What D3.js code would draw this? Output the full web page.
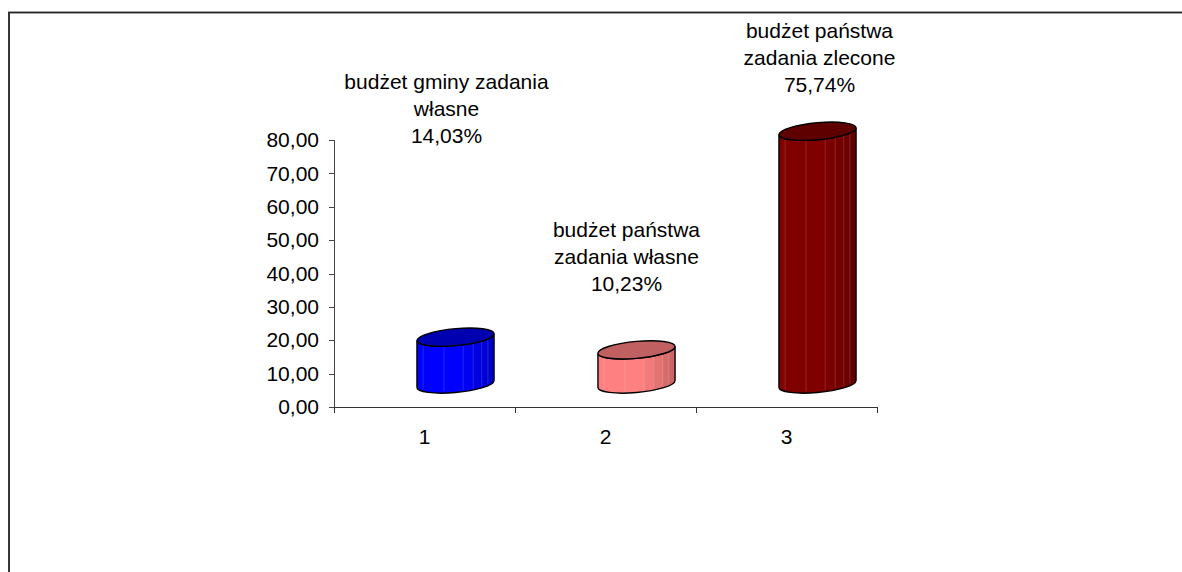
<!DOCTYPE html>
<html lang="pl">
<head>
<meta charset="utf-8">
<title>Budżet</title>
<script src="https://d3js.org/d3.v7.min.js"></script>
<style>
  body { margin: 0; background: #fff; overflow: hidden; }
  svg { display: block; }
  text { font-family: "Liberation Sans", Arial, sans-serif; fill: #000; }
</style>
</head>
<body>
<svg class="chart"></svg>
<script>
// data
var categories = ["1", "2", "3"];
var values = [14.03, 10.23, 75.74];
var labelLines = [
  ["budżet gminy zadania", "własne"],
  ["budżet państwa", "zadania własne"],
  ["budżet państwa", "zadania zlecone"]
];
var yTicks = [0, 10, 20, 30, 40, 50, 60, 70, 80];

// colours: side, right (shaded) side, top
var sideColors = ["#0000ff", "#ff8080", "#800000"];
var darkColors = ["#0000c8", "#c86464", "#640000"];
var topColors = ["#0000b0", "#c06060", "#5e0000"];

var W = 1182, H = 572;
var fontSize = 21;

var pl = d3.formatLocale({decimal: ",", thousands: " ", grouping: [3], currency: ["", " zł"]});
var fmt = pl.format(".2f");

var svg = d3.select(".chart").attr("width", W).attr("height", H);
var defs = svg.append("defs");

// outer frame (runs off the right and bottom edges)
svg.append("rect")
  .attr("x", 9).attr("y", 12.5)
  .attr("width", W + 20).attr("height", H + 20)
  .attr("fill", "none").attr("stroke", "#222").attr("stroke-width", 1.8);

var x = d3.scaleBand().domain(categories).range([334, 877]);
var y = d3.scaleLinear().domain([0, 80]).range([407, 140]);

// y axis
var yAxis = d3.axisLeft(y).tickValues(yTicks).tickSize(5).tickPadding(10).tickFormat(fmt);
svg.append("g").attr("transform", "translate(334,0)").call(yAxis)
  .call(function(g) {
    g.selectAll("path, line").attr("stroke", "#444").attr("shape-rendering", "crispEdges");
    g.select(".domain").attr("d", "M0," + y(80) + "V" + y(0));
    g.selectAll("text").attr("font-size", fontSize).attr("font-family", null).attr("fill", "#000");
  });

// x axis: labels at band centres, tick marks at band edges
var xAxis = d3.axisBottom(x).tickSize(0).tickPadding(22);
svg.append("g").attr("transform", "translate(0," + y(0) + ")").call(xAxis)
  .call(function(g) {
    g.select(".domain").attr("d", "M" + x.range()[0] + ",0H" + x.range()[1])
      .attr("stroke", "#333").attr("shape-rendering", "crispEdges");
    g.selectAll("text").attr("font-size", fontSize).attr("font-family", null).attr("fill", "#000");
  });
var edges = categories.map(function(c) { return x(c); }).concat([x.range()[1]]);
svg.append("g").selectAll("line").data(edges).join("line")
  .attr("x1", function(d) { return d; }).attr("x2", function(d) { return d; })
  .attr("y1", y(0)).attr("y2", y(0) + 6)
  .attr("stroke", "#333").attr("shape-rendering", "crispEdges");

// 3D cylinders
var depthX = 31, depthY = 23;       // oblique depth shift
var rx = x.bandwidth() * 0.213, ry = 8.5;
var skew = -5;
var facets = [0, 0.08, 0.35, 0.6, 0.73, 0.84, 0.92, 1];

var bars = svg.append("g").selectAll("g.bar").data(values).join("g")
  .attr("class", "bar")
  .attr("transform", function(d, i) {
    return "translate(" + (x(categories[i]) + x.bandwidth() / 2 + depthX) + ",0) skewY(" + skew + ")";
  });

bars.each(function(d, i) {
  var g = d3.select(this);
  var yTop = y(d) - depthY, yBot = y(0) - depthY;

  // stepped gradient to mimic facets
  var grad = defs.append("linearGradient").attr("id", "side" + i)
    .attr("x1", 0).attr("x2", 1).attr("y1", 0).attr("y2", 0);
  var mix = d3.interpolateRgb(sideColors[i], darkColors[i]);
  for (var k = 0; k < facets.length - 1; k++) {
    var t = Math.max(0, (facets[k] - 0.5) / 0.45);
    var c = mix(Math.min(1, t));
    grad.append("stop").attr("offset", facets[k]).attr("stop-color", c);
    grad.append("stop").attr("offset", facets[k + 1]).attr("stop-color", c);
  }

  var side = "M" + (-rx) + "," + yTop + "L" + (-rx) + "," + yBot +
    "A" + rx + "," + ry + " 0 0 0 " + rx + "," + yBot +
    "L" + rx + "," + yTop +
    "A" + rx + "," + ry + " 0 0 1 " + (-rx) + "," + yTop + "Z";

  g.append("path").attr("d", side).attr("fill", "url(#side" + i + ")");

  // faint facet edges
  g.append("g").selectAll("line").data(facets.slice(1, -1)).join("line")
    .attr("x1", function(f) { return -rx + 2 * rx * f; })
    .attr("x2", function(f) { return -rx + 2 * rx * f; })
    .attr("y1", yTop + 2)
    .attr("y2", function(f) {
      var u = (2 * f - 1);
      return yBot + ry * Math.sqrt(Math.max(0, 1 - u * u)) - 2;
    })
    .attr("stroke", "#fff").attr("stroke-opacity", 0.15).attr("stroke-width", 1);

  g.append("path").attr("d", side).attr("fill", "none")
    .attr("stroke", "#000").attr("stroke-width", 1.4);

  g.append("ellipse").attr("cx", 0).attr("cy", yTop).attr("rx", rx).attr("ry", ry)
    .attr("fill", topColors[i]).attr("stroke", "#000").attr("stroke-width", 1.4);
});

// data labels
var labelDx = [22, 21, 33];
var labelY = [89, 237, 38];
var lineH = 27;
var labels = svg.append("g").selectAll("text.label").data(values).join("text")
  .attr("class", "label")
  .attr("text-anchor", "middle")
  .attr("font-size", fontSize);
labels.each(function(d, i) {
  var t = d3.select(this);
  var cx = x(categories[i]) + x.bandwidth() / 2 + labelDx[i];
  labelLines[i].concat([fmt(d) + "%"]).forEach(function(s, k) {
    t.append("tspan").attr("x", cx).attr("y", labelY[i] + k * lineH).text(s);
  });
});
</script>
</body>
</html>
